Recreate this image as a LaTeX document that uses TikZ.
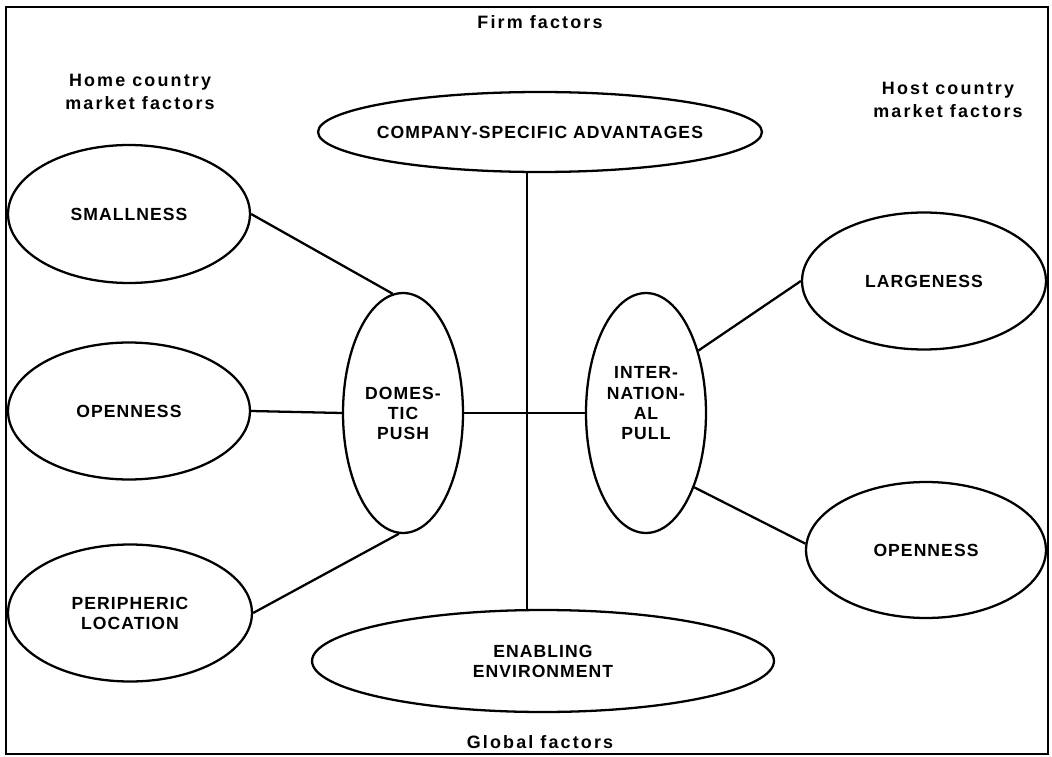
\documentclass[tikz,border=0pt]{standalone}
\usepackage{fontspec}
\setmainfont{Liberation Sans}
\newfontfamily\spacedfont[LetterSpace=6]{Liberation Sans}
\newfontfamily\wideheadfont[LetterSpace=12]{Liberation Sans}
\usepackage{tikz}
\usetikzlibrary{shapes,positioning}
\newcommand{\ovalfont}{\spacedfont\bfseries\fontsize{10}{11.4}\selectfont}
\newcommand{\headfont}{\wideheadfont\bfseries\fontsize{10.2}{13}\selectfont}
\tikzstyle{link} = [line width=1.3pt]
\tikzstyle{oval} = [ellipse, draw, line width=1.3pt, inner sep=0pt, align=center, font=\ovalfont]
\tikzstyle{heading} = [align=center, font=\headfont]

\begin{document}
\begin{tikzpicture}[x=0.02cm, y=-0.02cm]
\useasboundingbox (0,0) rectangle (1052,757);
\draw[link] (6,7) rectangle (1048,754);

% Headings
\node[heading] (firm) at (540,22) {Firm factors};
\node[heading] (home) at (140,92) {Home country\\market factors};
\node[heading] (host) at (948,100) {Host country\\market factors};
\node[heading] (global) at (540,742) {Global factors};

% Home country market
\node[oval, minimum width=4.84cm, minimum height=2.76cm] (small) at (129,214) {SMALLNESS};
\node[oval, minimum width=4.84cm, minimum height=2.74cm] (openhome) at (129,411) {OPENNESS};
\node[oval, minimum width=4.88cm, minimum height=2.74cm] (periph) at (130,613) {PERIPHERIC\\LOCATION};

% Push and pull
\node[oval, minimum width=2.4cm, minimum height=4.8cm] (push) at (403,413) {DOMES-\\TIC\\PUSH};
\node[oval, minimum width=2.4cm, minimum height=4.8cm] (pull) at (646,413) {INTER-\\NATION-\\AL\\PULL\\\mbox{}};

% Host country market
\node[oval, minimum width=4.88cm, minimum height=2.74cm] (large) at (924,281) {LARGENESS};
\node[oval, minimum width=4.8cm, minimum height=2.72cm] (openhost) at (926,550) {OPENNESS};

% Firm and global
\node[oval, inner xsep=-6pt, minimum width=8.88cm, minimum height=1.6cm] (csa) at (540,132) {COMPANY-SPECIFIC ADVANTAGES};
\node[oval, minimum width=9.24cm, minimum height=2.04cm] (enable) at (543,661) {ENABLING\\ENVIRONMENT};

% Links
\draw[link] (small.east) -- (push.95);
\draw[link] (openhome.east) -- (push.west);
\draw[link] (periph.east) -- (push.-92);
\draw[link] (push.east) -- (pull.west);
\draw[link] (pull.50) -- (large.west);
\draw[link] (pull.-57) -- (openhost.177);
\draw[link] (csa.252) -- (csa.252 |- enable.north);
\end{tikzpicture}
\end{document}
